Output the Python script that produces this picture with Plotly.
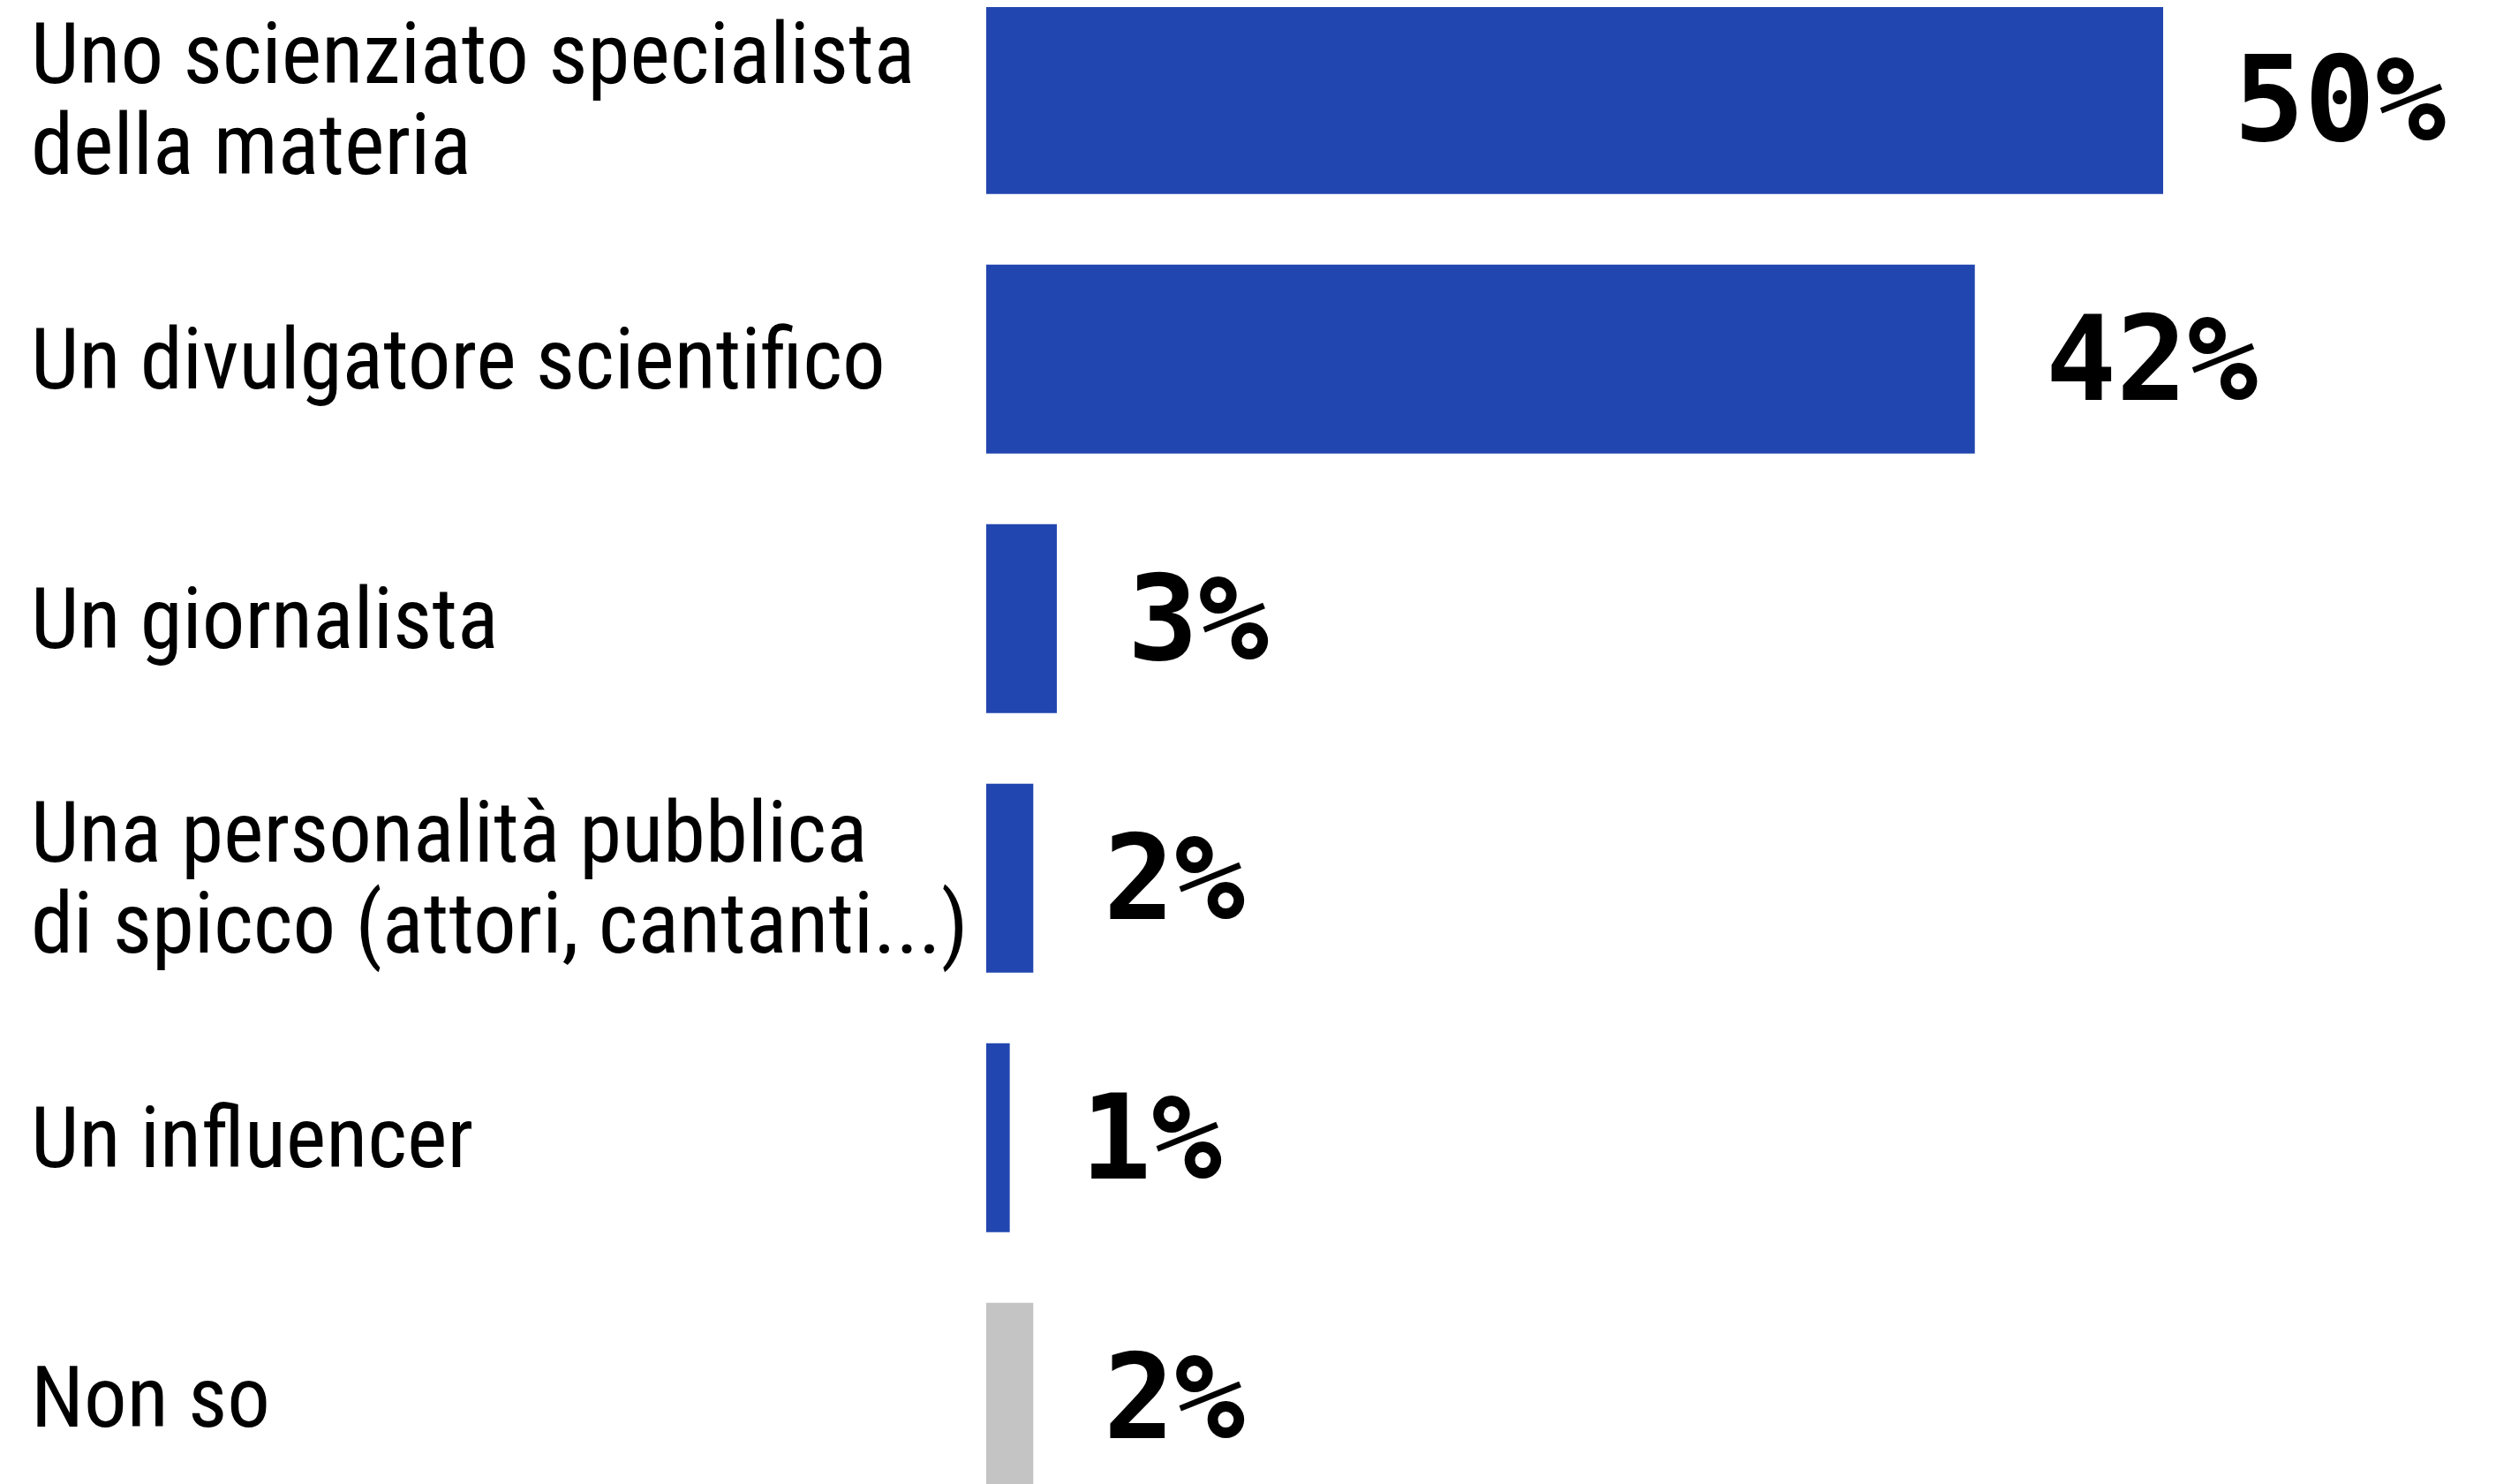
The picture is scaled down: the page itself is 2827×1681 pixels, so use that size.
import plotly.graph_objects as go

categories = [
    "Uno scienziato specialista\ndella materia",
    "Un divulgatore scientifico",
    "Un giornalista",
    "Una personalità pubblica\ndi spicco (attori, cantanti...)",
    "Un influencer",
    "Non so",
]
values = [50, 42, 3, 2, 1, 2]
value_labels = ["50%", "42%", "3%", "2%", "1%", "2%"]
bar_colors = ["#2246B0", "#2246B0", "#2246B0", "#2246B0", "#2246B0", "#C4C4C4"]

W, H = 2827, 1681
LEFT = 1109
LABEL_FONT = "Roboto Condensed, Liberation Sans Narrow, Liberation Sans, Arial, sans-serif"
VAL_FONT = "DejaVu Sans Mono, monospace"

ids = list(range(len(categories)))

fig = go.Figure()
fig.add_trace(go.Bar(
    x=values, y=ids, orientation="h",
    marker=dict(color=bar_colors, line=dict(width=0)),
    width=0.728, hoverinfo="skip",
))

annotations = []
line_gap = 103
for i, (cat, v, lab) in enumerate(zip(categories, values, value_labels)):
    lines = cat.split("\n")
    n = len(lines)
    for j, line in enumerate(lines):
        annotations.append(dict(
            x=0, xref="paper", xshift=-(LEFT - 25), y=i, yref="y",
            yshift=((n - 1) / 2 - j) * line_gap,
            text=line, showarrow=False, xanchor="left", yanchor="middle",
            font=dict(family=LABEL_FONT, size=97, color="#000000"),
        ))
    annotations.append(dict(
        x=v, xref="x", y=i, yref="y", xshift=78,
        text="<b>%s</b>" % lab, showarrow=False, xanchor="left", yanchor="middle",
        font=dict(family=VAL_FONT, size=133, color="#000000"),
    ))

xmax = (W - LEFT) / ((2449 - 1116) / 50)
fig.update_layout(
    width=W, height=H,
    margin=dict(l=LEFT, r=0, t=0, b=0),
    paper_bgcolor="white", plot_bgcolor="white",
    showlegend=False,
    xaxis=dict(range=[0, xmax], visible=False, showgrid=False, zeroline=False),
    yaxis=dict(range=[5.361, -0.356], visible=False, showgrid=False, zeroline=False),
    annotations=annotations,
)
fig.write_html("out.html")
